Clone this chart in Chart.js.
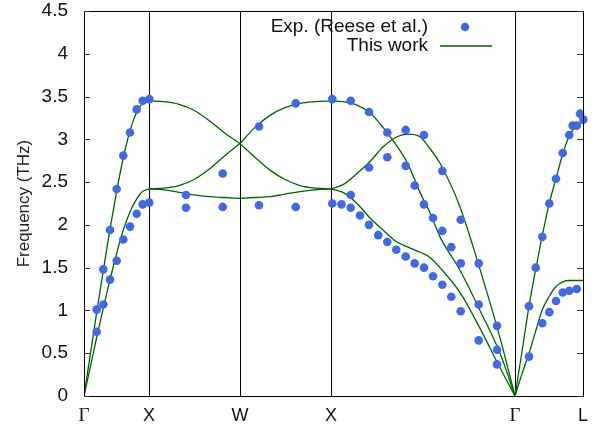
<!DOCTYPE html>
<html>
<head>
<meta charset="utf-8">
<script src="https://cdn.jsdelivr.net/npm/chart.js@4/dist/chart.umd.min.js"></script>
<style>
  body { margin: 0; background: #fff; }
  #wrap { width: 599px; height: 428px; }
</style>
</head>
<body>
<div id="wrap"><canvas id="chart" width="599" height="428"></canvas></div>
<script>
// high symmetry points along the k-path
var kLabels = ['Γ', 'X', 'W', 'X', 'Γ', 'L'];
var kTicks = [0, 0.65, 1.56, 2.47, 4.31, 4.99];
var yTicks = [0, 0.5, 1, 1.5, 2, 2.5, 3, 3.5, 4, 4.5];

// experiment (Reese et al.)
var expK = [0.127, 0.127, 0.193, 0.193, 0.26, 0.26, 0.327, 0.327, 0.393, 0.393,
            0.46, 0.46, 0.527, 0.527, 0.587, 0.587, 0.653, 0.653,
            1.02, 1.02, 1.387, 1.387, 1.75, 1.75, 2.117, 2.117,
            2.483, 2.483, 2.575, 2.667, 2.667, 2.667, 2.76, 2.85, 2.85, 2.85, 2.943,
            3.033, 3.033, 3.033, 3.123, 3.217, 3.217, 3.217, 3.307, 3.307,
            3.40, 3.40, 3.40, 3.49, 3.49, 3.583, 3.583, 3.583, 3.673, 3.673,
            3.767, 3.767, 3.767, 3.947, 3.947, 3.947, 4.13, 4.13, 4.13,
            4.45, 4.45, 4.517, 4.583, 4.583, 4.653, 4.653, 4.72, 4.72, 4.787, 4.787,
            4.853, 4.853, 4.887, 4.927, 4.927, 4.96, 4.993, 4.993];
var expF = [0.75, 1.01, 1.07, 1.48, 1.36, 1.94, 1.58, 2.42, 1.83, 2.81,
            1.98, 3.08, 2.13, 3.35, 2.24, 3.45, 2.26, 3.47,
            2.35, 2.20, 2.60, 2.21, 3.15, 2.23, 3.42, 2.21,
            3.47, 2.25, 2.24, 3.45, 2.35, 2.20, 2.11, 3.32, 2.67, 2.00, 1.88,
            3.08, 2.79, 1.80, 1.71, 3.11, 2.69, 1.63, 2.46, 1.55,
            3.05, 2.24, 1.50, 2.08, 1.40, 2.63, 1.93, 1.30, 1.74, 1.16,
            2.06, 1.55, 0.99, 1.55, 1.07, 0.65, 0.82, 0.54, 0.37,
            0.46, 1.05, 1.50, 1.86, 0.85, 2.25, 0.98, 2.54, 1.11, 2.84, 1.21,
            3.05, 1.23, 3.16, 3.16, 1.25, 3.30, 3.23, 1.28];

// calculated branches, segment by segment
var gxK = [0, 0.065, 0.13, 0.195, 0.26, 0.325, 0.39, 0.455, 0.52, 0.585, 0.65];
var gxLA = [0, 0.50, 1.00, 1.48, 1.95, 2.38, 2.77, 3.08, 3.30, 3.42, 3.45];
var gxTA = [0, 0.35, 0.70, 1.04, 1.36, 1.66, 1.93, 2.14, 2.29, 2.39, 2.42];

var xwK = [0.65, 0.80, 0.95, 1.10, 1.25, 1.40, 1.56];
var xwTop = [3.45, 3.44, 3.41, 3.34, 3.22, 3.08, 2.95];
var xwMid = [2.42, 2.43, 2.46, 2.53, 2.65, 2.80, 2.95];
var xwLow = [2.42, 2.41, 2.38, 2.35, 2.33, 2.32, 2.31];

var wxK = [1.56, 1.71, 1.86, 2.01, 2.16, 2.31, 2.47];
var wxTop = [2.95, 3.14, 3.28, 3.37, 3.42, 3.44, 3.45];
var wxMid = [2.95, 2.79, 2.64, 2.53, 2.46, 2.43, 2.42];
var wxLow = [2.31, 2.32, 2.33, 2.36, 2.39, 2.41, 2.42];

var xgK = [2.47, 2.59, 2.73, 2.86, 2.99, 3.13, 3.24, 3.36, 3.46, 3.56, 3.76, 3.96, 4.16, 4.31];
var xgA = [3.45, 3.44, 3.40, 3.31, 3.14, 2.92, 2.71, 2.38, 2.14, 1.86, 1.47, 1.00, 0.50, 0];
var xgB = [2.42, 2.47, 2.60, 2.74, 2.91, 3.03, 3.06, 3.03, 2.89, 2.72, 2.21, 1.48, 0.68, 0];
var xgC = [2.42, 2.38, 2.25, 2.08, 1.94, 1.80, 1.74, 1.68, 1.62, 1.50, 1.21, 0.79, 0.33, 0];

var glK = [4.31, 4.38, 4.45, 4.52, 4.58, 4.65, 4.72, 4.79, 4.85, 4.93, 4.99];
var glLA = [0, 0.52, 1.05, 1.50, 1.86, 2.24, 2.54, 2.84, 3.03, 3.17, 3.20];
var glTA = [0, 0.26, 0.50, 0.77, 1.00, 1.16, 1.28, 1.335, 1.35, 1.35, 1.35];

var green = '#006400';
var blue = '#4169e1';
var sans = '"Liberation Sans", Arial, sans-serif';

function pts(ks, fs) {
    var out = [];
    for (var i = 0; i < ks.length; i++) out.push({x: ks[i], y: fs[i]});
    return out;
}

var branches = [
    [gxK, gxLA], [gxK, gxTA],
    [xwK, xwTop], [xwK, xwMid], [xwK, xwLow],
    [wxK, wxTop], [wxK, wxMid], [wxK, wxLow],
    [xgK, xgA], [xgK, xgB], [xgK, xgC],
    [glK, glLA], [glK, glTA]
];

var datasets = [{
    type: 'scatter',
    label: 'Exp. (Reese et al.)',
    data: pts(expK, expF),
    backgroundColor: blue,
    borderWidth: 0,
    pointRadius: 4.3,
    clip: 8,
    order: 0
}];
for (var b = 0; b < branches.length; b++) {
    datasets.push({
        type: 'line',
        label: 'This work',
        data: pts(branches[b][0], branches[b][1]),
        borderColor: green,
        borderWidth: 1.3,
        pointRadius: 0,
        fill: false,
        cubicInterpolationMode: 'monotone',
        order: 1
    });
}

// frame, inward ticks and the key
var framePlugin = {
    id: 'frame',
    afterDraw: function (chart) {
        var ctx = chart.ctx, a = chart.chartArea, ys = chart.scales.y;
        ctx.save();
        ctx.strokeStyle = '#000';
        ctx.lineWidth = 1;
        ctx.strokeRect(Math.round(a.left) + 0.5, Math.round(a.top) + 0.5,
                       Math.round(a.right - a.left), Math.round(a.bottom - a.top));
        ctx.strokeStyle = '#333';
        yTicks.forEach(function (v) {
            var py = Math.round(ys.getPixelForValue(v)) + 0.5;
            ctx.beginPath();
            ctx.moveTo(a.left, py); ctx.lineTo(a.left + 6, py);
            ctx.moveTo(a.right - 6, py); ctx.lineTo(a.right, py);
            ctx.stroke();
        });

        // key
        var tx = a.left + 344, r1 = a.top + 16, r2 = a.top + 35;
        ctx.font = '19px ' + sans;
        ctx.fillStyle = '#111';
        ctx.textAlign = 'right';
        ctx.textBaseline = 'middle';
        ctx.fillText('Exp. (Reese et al.)', tx, r1);
        ctx.fillText('This work', tx, r2);
        ctx.fillStyle = blue;
        ctx.beginPath();
        ctx.arc(tx + 37, r1, 4.3, 0, Math.PI * 2);
        ctx.fill();
        ctx.strokeStyle = green;
        ctx.lineWidth = 1.3;
        ctx.beginPath();
        ctx.moveTo(tx + 12, r2); ctx.lineTo(tx + 64, r2);
        ctx.stroke();
        ctx.restore();
    }
};

new Chart(document.getElementById('chart'), {
    data: { datasets: datasets },
    options: {
        responsive: false,
        animation: false,
        layout: { padding: { top: 11, right: 16, left: 0, bottom: 0 } },
        plugins: { legend: { display: false }, tooltip: { enabled: false } },
        scales: {
            x: {
                type: 'linear',
                min: 0,
                max: 4.99,
                afterBuildTicks: function (scale) {
                    scale.ticks = kTicks.map(function (v) { return {value: v}; });
                },
                afterFit: function (scale) {
                    scale.height = 32;
                    scale.paddingLeft = 0;
                    scale.paddingRight = 0;
                },
                grid: { color: '#000', lineWidth: 1, drawTicks: false },
                border: { color: '#000' },
                ticks: {
                    padding: 9,
                    color: '#111',
                    maxRotation: 0,
                    autoSkip: false,
                    callback: function (v, i) { return kLabels[i]; },
                    font: function (c) {
                        var lbl = kLabels[c.index];
                        return lbl === 'Γ'
                            ? { family: '"Liberation Serif", "Times New Roman", serif', size: 19 }
                            : { family: sans, size: 18 };
                    }
                }
            },
            y: {
                min: 0,
                max: 4.5,
                afterBuildTicks: function (scale) {
                    scale.ticks = yTicks.map(function (v) { return {value: v}; });
                },
                afterFit: function (scale) {
                    scale.width = 84;
                    scale.paddingTop = 0;
                    scale.paddingBottom = 0;
                },
                grid: { display: false },
                border: { color: '#000' },
                ticks: {
                    padding: 8,
                    color: '#111',
                    font: { family: sans, size: 19 },
                    callback: function (v) { return String(v); }
                },
                title: {
                    display: true,
                    text: 'Frequency (THz)',
                    color: '#222',
                    font: { family: sans, size: 17 },
                    padding: { top: 14, bottom: 0 }
                }
            }
        }
    },
    plugins: [framePlugin]
});
</script>
</body>
</html>
